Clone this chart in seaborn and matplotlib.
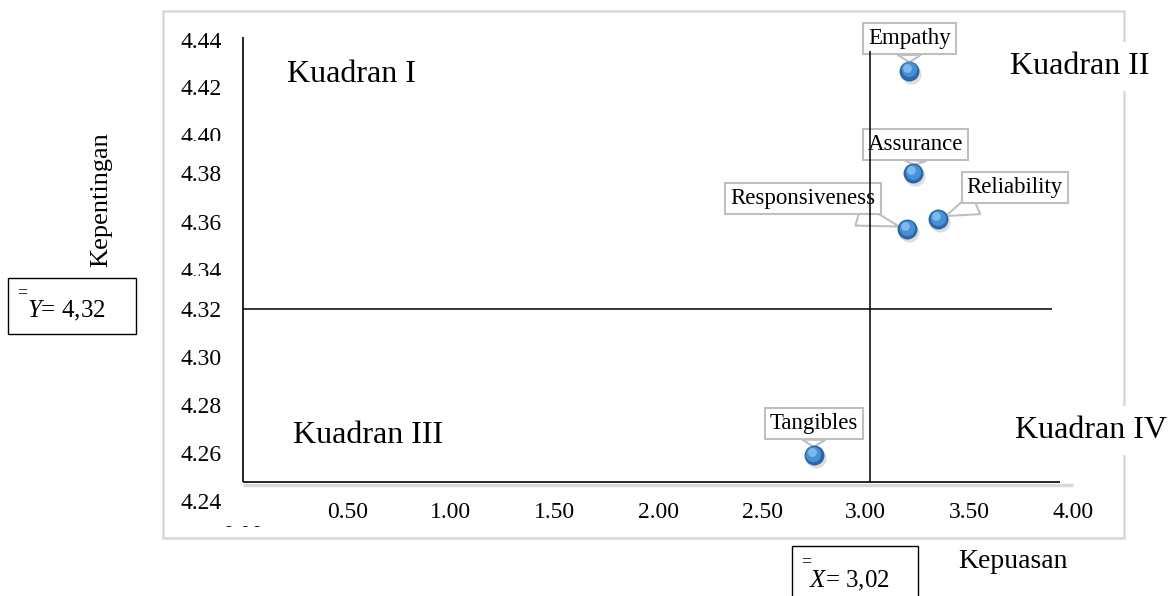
import numpy as np
import pandas as pd
import matplotlib
matplotlib.use("Agg")
import matplotlib.pyplot as plt
import seaborn as sns
from matplotlib.patches import Rectangle
from matplotlib.transforms import offset_copy
from matplotlib.ticker import NullLocator

# ---------------- data ----------------
ATRIBUT = ["Tangibles", "Reliability", "Responsiveness", "Assurance", "Empathy"]
KEPUASAN = [2.75, 3.35, 3.20, 3.23, 3.21]
KEPENTINGAN = [4.259, 4.361, 4.357, 4.380, 4.427]
X_MEAN = 3.02
Y_MEAN = 4.32
XTICKS = [0.5, 1.0, 1.5, 2.0, 2.5, 3.0, 3.5, 4.0]
YTICKS = [4.24, 4.26, 4.28, 4.30, 4.32, 4.34, 4.36, 4.38, 4.40, 4.42, 4.44]
QUADRANTS = ["Kuadran I", "Kuadran II", "Kuadran III", "Kuadran IV"]

# ---------------- layout / style ----------------
LABEL_OFFSETS = {  # points, label box relative to point
    "Empathy": (0, 23), "Assurance": (1.5, 21), "Reliability": (55, 23),
    "Responsiveness": (-75, 22), "Tangibles": (0, 23),
}
# piecewise axis (the original chart has two thin slices cut out)
_VALS = np.array([4.20, 4.24, 4.3358, 4.34, 4.395, 4.3996, 4.48])
_PIX = np.array([597.5, 501.0, 271.0, 270.0, 137.0, 136.0, -56.0])


def fwd(v):
    return -np.interp(v, _VALS, _PIX)


def inv(u):
    return np.interp(-np.asarray(u), _PIX[::-1], _VALS[::-1])


sns.set_theme(style="white")
plt.rcParams["font.family"] = ["Liberation Serif", "DejaVu Serif"]
plt.rcParams["text.color"] = "black"
plt.rcParams["axes.labelcolor"] = "black"
plt.rcParams["mathtext.fontset"] = "custom"
plt.rcParams["mathtext.rm"] = "Liberation Serif"
plt.rcParams["mathtext.it"] = "Liberation Serif:italic"

W, H = 1168, 596
fig = plt.figure(figsize=(W / 100, H / 100), dpi=100)
fig.patch.set_facecolor("white")


def fx(px):
    return px / W


def fy(py):
    return 1 - py / H


ax = fig.add_axes([243.5 / W, (H - 501) / H, 871.1 / W, (501 - 25.2) / H])
ax.patch.set_visible(False)
ax.set_yscale("function", functions=(fwd, inv))
for s in ax.spines.values():
    s.set_visible(False)

df = pd.DataFrame({"Atribut": ATRIBUT, "Kepuasan": KEPUASAN, "Kepentingan": KEPENTINGAN})

# axis lines and mean lines
ax.plot([0, 4.0], [4.2466, 4.2466], color="#d9d9d9", lw=2.5, solid_capstyle="butt", clip_on=False, zorder=1)
ax.plot([0, 0], [4.248, 4.441], color="black", lw=1.2, solid_capstyle="butt", clip_on=False, zorder=2)
ax.plot([0, 3.937], [4.248, 4.248], color="black", lw=1.2, solid_capstyle="butt", clip_on=False, zorder=2)
ax.plot([0, 3.90], [Y_MEAN, Y_MEAN], color="black", lw=1.1, solid_capstyle="butt", clip_on=False, zorder=4)
ax.plot([X_MEAN, X_MEAN], [4.248, 4.435], color="black", lw=1.1, solid_capstyle="butt", clip_on=False, zorder=4)

# spheres: shadow, base, body, highlight
sh = offset_copy(ax.transData, fig=fig, x=1.2, y=-2.2, units="points")
ax.scatter(df["Kepuasan"], df["Kepentingan"], s=210, color="#bdbdbd", alpha=0.5, lw=0, transform=sh, zorder=4.5)
sns.scatterplot(data=df, x="Kepuasan", y="Kepentingan", ax=ax, s=190, color="#2a69ad",
                edgecolor="#22588f", linewidth=0.5, zorder=5, legend=False)
body = offset_copy(ax.transData, fig=fig, x=-0.5, y=1.0, units="points")
ax.scatter(df["Kepuasan"], df["Kepentingan"], s=120, color="#4690d6", lw=0, transform=body, zorder=5.1)
hl = offset_copy(ax.transData, fig=fig, x=-1.6, y=2.2, units="points")
ax.scatter(df["Kepuasan"], df["Kepentingan"], s=40, color="#7fb9ea", lw=0, transform=hl, zorder=5.2)

# callout labels
for name, x, y in zip(df["Atribut"], df["Kepuasan"], df["Kepentingan"]):
    dx, dy = LABEL_OFFSETS[name]
    ax.annotate(name, (x, y), xytext=(dx, dy), textcoords="offset points",
                ha="center", va="center", fontsize=16.5, color="black", zorder=3,
                bbox=dict(boxstyle="square,pad=0.22", fc="white", ec="#bfbfbf", lw=1.5),
                arrowprops=dict(arrowstyle="wedge,tail_width=1.0,shrink_factor=0.5",
                                fc="white", ec="#bfbfbf", lw=1.5, shrinkA=0, shrinkB=6))

ax.set_xlim(0, 4.2)
ax.set_ylim(4.24, 4.446)
ax.set_xticks(XTICKS)
ax.set_xticklabels([f"{t:.2f}" for t in XTICKS])
ax.set_yticks(YTICKS)
ax.set_yticklabels([f"{t:.2f}" for t in YTICKS])
ax.yaxis.set_minor_locator(NullLocator())
ax.xaxis.set_minor_locator(NullLocator())
ax.tick_params(axis="both", length=0, labelsize=17, colors="black")
ax.tick_params(axis="y", pad=15.5)
ax.tick_params(axis="x", pad=1)
ax.set_xlabel("")
ax.set_ylabel("")

# cut-off labels of the original
fig.text(fx(243), fy(541), "0.00", ha="center", va="baseline", fontsize=17, zorder=3)
for y0, y1, x0, x1 in [(141, 150, 170, 236), (276, 285, 170, 236), (527, 546, 215, 272)]:
    fig.add_artist(Rectangle((fx(x0), fy(y1)), (x1 - x0) / W, (y1 - y0) / H,
                             transform=fig.transFigure, fc="white", ec="none", zorder=5))

# outer frame
fig.add_artist(Rectangle((fx(163), fy(538)), (1124 - 163) / W, (538 - 11) / H,
                         transform=fig.transFigure, fill=False, ec="#d9d9d9", lw=1.8, zorder=6))

# quadrant names
qpos = [(287, 82, False), (1010, 74, True), (293, 443, False), (1015, 438, True)]
for q, (px, py, boxed) in zip(QUADRANTS, qpos):
    kw = dict(bbox=dict(boxstyle="square,pad=0.3", fc="white", ec="none")) if boxed else {}
    fig.text(fx(px), fy(py), q, ha="left", va="baseline", fontsize=23, color="black", zorder=7, **kw)

# axis titles
fig.text(fx(101), fy(200), "Kepentingan", rotation=90, ha="center", va="center", fontsize=19, color="black")
fig.text(fx(958), fy(568), "Kepuasan", ha="left", va="baseline", fontsize=20, color="black")

# mean boxes
fig.add_artist(Rectangle((fx(8), fy(334)), 128 / W, 56 / H, transform=fig.transFigure,
                         fill=False, ec="black", lw=1.0, zorder=6))
fig.text(fx(17), fy(297), "=", fontsize=13, va="baseline", ha="left", color="black")
fig.text(fx(27), fy(317), r"$\mathit{Y}$= " + f"{Y_MEAN:.2f}".replace(".", ","),
         fontsize=18, va="baseline", ha="left", color="black")

fig.add_artist(Rectangle((fx(792), fy(600)), 126 / W, 54 / H, transform=fig.transFigure,
                         fill=False, ec="black", lw=1.0, zorder=6, clip_on=False))
fig.text(fx(801), fy(566), "=", fontsize=13, va="baseline", ha="left", color="black")
fig.text(fx(809), fy(587), r"$\mathit{X}$= " + f"{X_MEAN:.2f}".replace(".", ","),
         fontsize=18, va="baseline", ha="left", color="black")

fig.savefig("out.png", dpi=100, facecolor="white")
